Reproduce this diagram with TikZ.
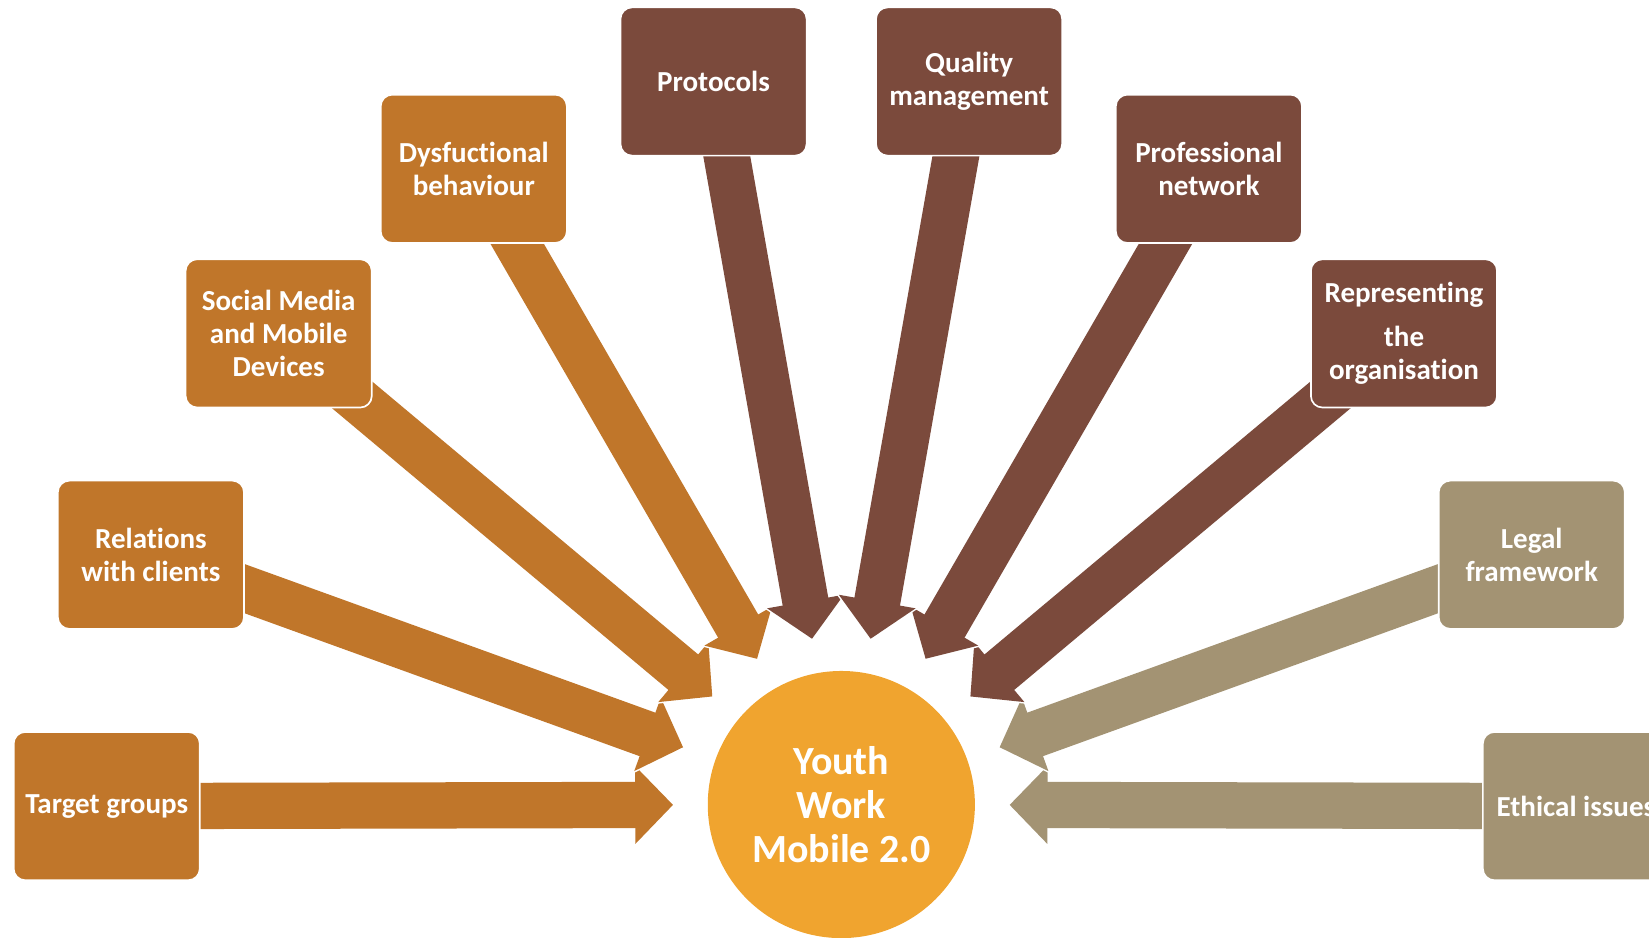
\documentclass[tikz,border=0pt]{standalone}
\usepackage{fontspec}
\setmainfont{Carlito}[Ligatures={NoCommon,NoContextual}]
\usetikzlibrary{arrows.meta,backgrounds}
\definecolor{orng}{HTML}{C0762A}
\definecolor{brwn}{HTML}{7B4A3C}
\definecolor{khak}{HTML}{A39373}
\definecolor{ctr}{HTML}{F0A42F}
\begin{document}
\begin{tikzpicture}[x=0.5pt,y=-0.5pt,
  box/.style={rounded corners=5.5pt, minimum width=88.5pt, minimum height=70.5pt,
    draw=white, line width=0.8pt, fill=#1, text=white, align=center, inner sep=0pt,
    font=\fontsize{13.8}{15.5}\selectfont\bfseries},
  hub/.style={circle, fill=ctr, minimum size=127pt, inner sep=0pt, text=white,
    align=center, font=\fontsize{19}{21}\selectfont\bfseries},
  arrw/.style={draw=#1, line width=22pt,
    -{Triangle[length=18pt 0, width=36pt 0]}, shorten >=80pt},
  arrwo/.style={draw=white, line width=23.5pt,
    -{Triangle[length=19.75pt 0, width=39.5pt 0]}, shorten >=79pt}]
\useasboundingbox (0,0) rectangle (1568,891);
\node[hub] (c) at (800,765) {Youth\\Work\\Mobile 2.0};
\node[box=orng] (t1) at (101.5,766.5) {Target groups};
\node[box=orng] (t2) at (143.5,527.5) {Relations\\with clients};
\node[box=orng] (t3) at (265,317) {Social Media\\and Mobile\\Devices};
\node[box=orng] (t4) at (450.5,160.5) {Dysfuctional\\behaviour};
\node[box=brwn] (t5) at (678.5,77.5) {Protocols};
\node[box=brwn] (t6) at (921.5,77.5) {Quality\\management};
\node[box=brwn] (t7) at (1149.5,160.5) {Professional\\network};
\node[box=brwn] (t8) at (1335,317) {Representing\\[5.5pt]the\\organisation};
\node[box=khak] (t9) at (1456.5,527.5) {Legal\\framework};
\node[box=khak] (t10) at (1498.5,766.5) {Ethical issues};
\begin{pgfonlayer}{background}
\foreach \n/\col in {t1/orng,t2/orng,t3/orng,t4/orng,t5/brwn,t10/khak,t9/khak,t8/brwn,t7/brwn,t6/brwn}{
  \draw[arrwo] (\n.center) -- (c.center);
  \draw[arrw=\col] (\n.center) -- (c.center);
}
\end{pgfonlayer}
\end{tikzpicture}
\end{document}
